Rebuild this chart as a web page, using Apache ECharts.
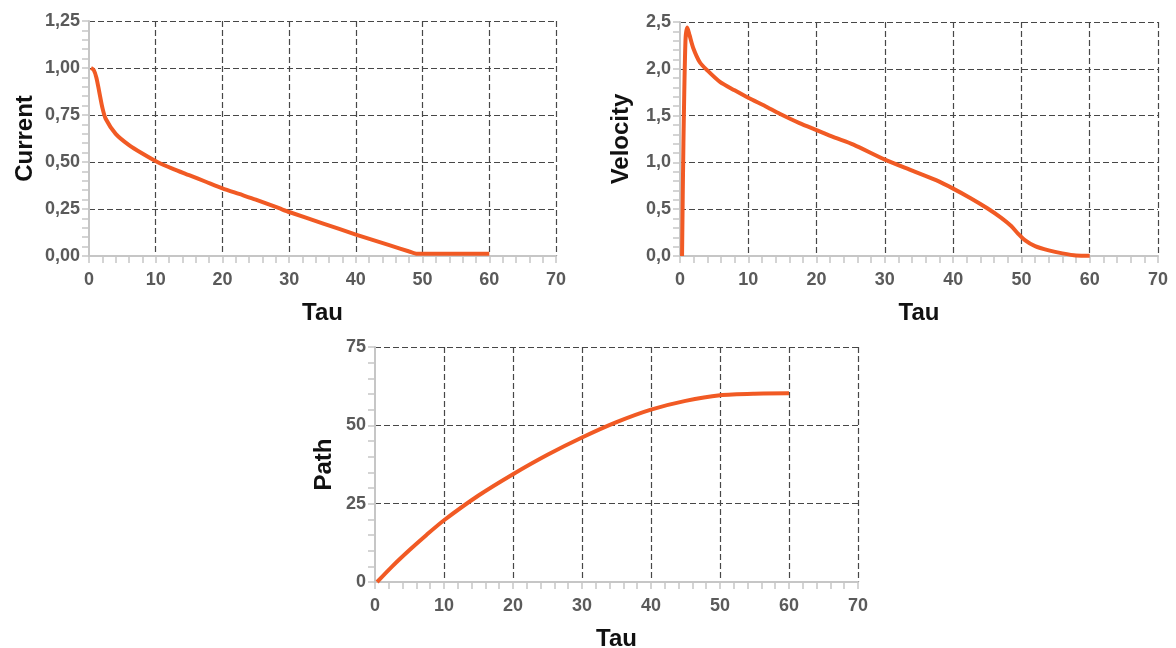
<!DOCTYPE html>
<html>
<head>
<meta charset="utf-8">
<script src="https://cdn.jsdelivr.net/npm/echarts@6/dist/echarts.min.js"></script>
<style>
  html, body { margin: 0; padding: 0; background: #fff; }
  #chart { width: 1176px; height: 648px; }
</style>
</head>
<body>
<div id="chart"></div>
<script>
// Current vs. Tau
const currentTau = [0.3, 0.7, 1.1, 1.5, 2.0, 2.5, 4, 6, 8, 10.25, 12.5, 15, 17.5, 20, 22.5, 25, 28.5, 30, 35, 40, 45, 48, 49.2, 60];
const currentVal = [1.0, 0.99, 0.95, 0.88, 0.79, 0.73, 0.65, 0.59, 0.545, 0.50, 0.465, 0.43, 0.395, 0.36, 0.33, 0.30, 0.254, 0.234, 0.174, 0.114, 0.058, 0.024, 0.012, 0.012];

// Velocity vs. Tau
const velocityTau = [0.3, 0.5, 0.8, 1.07, 1.4, 1.95, 2.9, 3.9, 5.85, 8, 10, 12.5, 14.6, 17.5, 20, 22.5, 25.4, 30, 34.1, 37.5, 40, 42.5, 45, 47, 48.5, 49.5, 50.5, 52, 54, 56, 58, 60];
const velocityVal = [0, 1.2, 2.3, 2.44, 2.36, 2.22, 2.07, 1.99, 1.86, 1.77, 1.69, 1.60, 1.52, 1.42, 1.345, 1.27, 1.19, 1.03, 0.91, 0.81, 0.72, 0.62, 0.51, 0.41, 0.32, 0.24, 0.17, 0.105, 0.06, 0.028, 0.006, 0.004];

// Path vs. Tau
const pathTau = [0.3, 2.5, 5, 7.5, 10, 15, 20, 25, 30, 35, 40, 45, 50, 55, 60];
const pathVal = [0, 5.0, 10.2, 15.1, 19.7, 27.6, 34.4, 40.6, 46.1, 51, 55, 57.8, 59.6, 60.1, 60.2];

// Axis ranges
const tauRange = { min: 0, max: 70, interval: 10 };
const currentRange = { min: 0, max: 1.25, interval: 0.25, digits: 2 };
const velocityRange = { min: 0, max: 2.5, interval: 0.5, digits: 1 };
const pathRange = { min: 0, max: 75, interval: 25, digits: 0 };

const LINE_COLOR = '#F15A24';
const AXIS_COLOR = '#c6c6c6';
const FONT = "'Liberation Sans', Arial, sans-serif";

const pairs = (xs, ys) => xs.map((x, i) => [x, ys[i]]);
const comma = (digits) => (v) => v.toFixed(digits).replace('.', ',');

const splitLine = {
  show: true, showMinLine: false,
  lineStyle: { color: '#474747', width: 1.2, type: [6, 3] }
};
const axisLine = { show: true, onZero: false, lineStyle: { color: AXIS_COLOR, width: 2 } };

function xAxisFor(gridIndex, gap) {
  return {
    type: 'value', gridIndex,
    min: tauRange.min, max: tauRange.max, interval: tauRange.interval,
    name: 'Tau', nameLocation: 'middle', nameGap: gap,
    nameTextStyle: { fontFamily: FONT, fontWeight: 'bold', fontSize: 24, color: '#111' },
    axisLine,
    axisTick: { show: true, length: 7, lineStyle: { color: AXIS_COLOR, width: 1.5 } },
    minorTick: { show: true, splitNumber: 5, length: 7, lineStyle: { color: AXIS_COLOR, width: 1.5 } },
    axisLabel: { margin: 15, fontFamily: FONT, fontWeight: 'bold', fontSize: 18, color: '#5a5a5a' },
    splitLine
  };
}

function yAxisFor(gridIndex, name, range, gap) {
  return {
    type: 'value', gridIndex,
    min: range.min, max: range.max, interval: range.interval,
    name, nameLocation: 'middle', nameGap: gap,
    nameTextStyle: { fontFamily: FONT, fontWeight: 'bold', fontSize: 24, color: '#111' },
    axisLine,
    axisTick: { show: true, length: 7, lineStyle: { color: AXIS_COLOR, width: 1.5 } },
    minorTick: { show: true, splitNumber: 5, length: 7, lineStyle: { color: AXIS_COLOR, width: 1.5 } },
    axisLabel: { margin: 9, fontFamily: FONT, fontWeight: 'bold', fontSize: 18, color: '#5a5a5a',
                 formatter: comma(range.digits) },
    splitLine
  };
}

function lineSeries(idx, data) {
  return {
    type: 'line', xAxisIndex: idx, yAxisIndex: idx,
    data, showSymbol: false, smooth: 0.25,
    lineStyle: { color: LINE_COLOR, width: 4 },
    itemStyle: { color: LINE_COLOR }
  };
}

const gridBase = { containLabel: false, outerBoundsMode: 'none' };

const chart = echarts.init(document.getElementById('chart'), null, { renderer: 'canvas' });
chart.setOption({
  animation: false,
  backgroundColor: '#fff',
  grid: [
    Object.assign({ left: 89, top: 21, width: 467, height: 235 }, gridBase),
    Object.assign({ left: 680, top: 22, width: 478, height: 234 }, gridBase),
    Object.assign({ left: 375, top: 347, width: 483, height: 235 }, gridBase)
  ],
  xAxis: [xAxisFor(0, 45), xAxisFor(1, 45), xAxisFor(2, 45)],
  yAxis: [
    yAxisFor(0, 'Current', currentRange, 52),
    yAxisFor(1, 'Velocity', velocityRange, 47),
    yAxisFor(2, 'Path', pathRange, 39)
  ],
  series: [
    lineSeries(0, pairs(currentTau, currentVal)),
    lineSeries(1, pairs(velocityTau, velocityVal)),
    lineSeries(2, pairs(pathTau, pathVal))
  ]
});
</script>
</body>
</html>
